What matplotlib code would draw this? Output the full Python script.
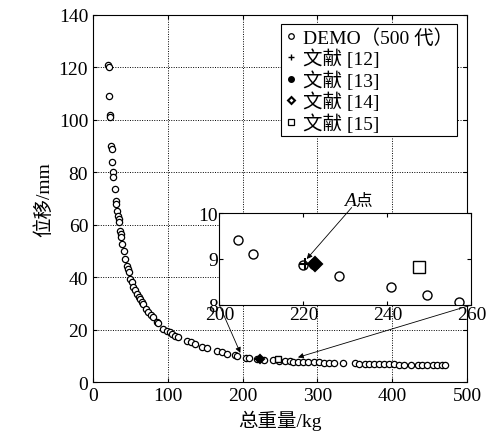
import matplotlib
matplotlib.use("Agg")
import matplotlib.pyplot as plt

plt.rcParams['font.family'] = ['Liberation Serif', 'Noto Sans CJK SC', 'DejaVu Sans']
plt.rcParams['font.size'] = 14

# DEMO (500 generations) data
demo_x = [20.3, 21.0, 21.7, 22.2, 22.6, 24.4, 24.8, 25.3, 26.2, 26.6, 28.8, 30.6, 30.9, 32.0,
          33.3, 34.2, 35.0, 36.4, 37.0, 37.7, 38.6, 40.8, 43.0, 45.3, 46.5, 47.5, 49.7, 52.0,
          54.1, 56.5, 58.7, 61.0, 63.0, 65.5, 67.5, 70.5, 74.1, 77.5, 80.8, 85.3, 86.5, 94.1,
          99.0, 103.0, 106.0, 109.7, 113.0, 125.3, 130.7, 136.0, 145.3, 152.0, 165.3, 172.0,
          178.7, 189.7, 192.0, 204.4, 208.1, 219.8, 228.5, 240.9, 249.3, 257.0, 263.0, 268.0,
          274.0, 280.5, 287.0, 296.0, 302.0, 309.0, 316.0, 322.5, 333.6, 349.7, 356.0, 363.0,
          369.6, 376.0, 383.0, 389.6, 396.0, 403.0, 409.6, 416.0, 425.0, 434.0, 440.5, 447.0,
          454.0, 460.0, 467.0, 470.0]
demo_y = [121.0, 120.3, 109.0, 101.8, 101.0, 90.0, 89.0, 84.0, 80.0, 78.3, 73.6, 69.2, 68.0, 65.4,
          63.5, 62.3, 61.0, 57.8, 56.5, 55.2, 52.7, 50.1, 47.0, 44.4, 43.0, 41.9, 39.4, 38.1,
          36.2, 35.0, 33.6, 32.5, 31.7, 30.5, 29.8, 28.0, 26.7, 25.5, 24.8, 22.9, 22.5, 20.3,
          19.5, 19.0, 18.5, 17.8, 17.2, 15.8, 15.4, 14.5, 13.3, 13.0, 12.0, 11.6,
          10.8, 10.4, 9.9, 9.41, 9.10, 8.88, 8.64, 8.40, 8.22, 8.06, 8.0, 7.9,
          7.9, 7.8, 7.7, 7.6, 7.6, 7.5, 7.5, 7.4, 7.3, 7.2, 7.1, 7.1,
          7.0, 7.0, 6.9, 6.9, 6.8, 6.8, 6.7, 6.7, 6.7, 6.6, 6.6, 6.6,
          6.5, 6.5, 6.5, 6.5]

ref12 = (220.4, 8.90)
ref13 = (222.5, 8.89)
ref14 = (222.8, 8.89)
ref15 = (247.6, 8.83)

labels = ['DEMO（500 代）', '文献 [12]', '文献 [13]', '文献 [14]', '文献 [15]']

fig = plt.figure(figsize=(4.9, 4.39), dpi=100)
ax = fig.add_axes([0.1898, 0.1269, 0.7632, 0.8367])

def draw(a, ms_c, ms_o, mew):
    h0, = a.plot(demo_x, demo_y, 'o', mfc='white', mec='black', ms=ms_c, mew=mew, ls='none')
    h1, = a.plot([ref12[0]], [ref12[1]], '+', color='black', ms=ms_o, mew=1.5, ls='none')
    h2, = a.plot([ref13[0]], [ref13[1]], 'o', mfc='black', mec='black', ms=ms_o * 0.8, ls='none')
    h3, = a.plot([ref14[0]], [ref14[1]], 'D', mfc='black', mec='black', ms=ms_o * 0.8, mew=1.5, ls='none')
    h4, = a.plot([ref15[0]], [ref15[1]], 's', mfc='white', mec='black', ms=ms_o * 0.9, mew=1.0, ls='none')
    return [h0, h1, h2, h3, h4]

handles = draw(ax, 4.5, 5, 0.9)
ax.set_xlim(0, 500)
ax.set_ylim(0, 140)
ax.set_xticks([0, 100, 200, 300, 400, 500])
ax.set_yticks([0, 20, 40, 60, 80, 100, 120, 140])
ax.grid(True, color='black', linestyle=(0, (1, 1.5)), linewidth=0.7)
ax.tick_params(direction='in', top=True, right=True, length=3, labelsize=14)
for s in ax.spines.values():
    s.set_linewidth(0.8)
ax.set_xlabel('总重量/kg', fontsize=14, labelpad=4)
ax.set_ylabel('位移/mm', fontsize=14, labelpad=4)

# legend with small markers
from matplotlib.lines import Line2D
lh = [Line2D([], [], marker='o', mfc='white', mec='black', ms=4, ls='none', mew=0.9),
      Line2D([], [], marker='+', color='black', ms=5, ls='none', mew=1.0),
      Line2D([], [], marker='o', mfc='black', mec='black', ms=4, ls='none'),
      Line2D([], [], marker='D', mfc='white', mec='black', ms=3.5, mew=1.5, ls='none'),
      Line2D([], [], marker='s', mfc='white', mec='black', ms=4, mew=0.9, ls='none')]
leg = ax.legend(lh, labels, loc='upper right', bbox_to_anchor=(0.9725, 0.9755),
                borderaxespad=0, fancybox=False, framealpha=1, edgecolor='black',
                handlelength=0.6, handletextpad=0.3, labelspacing=0.1, borderpad=0.2,
                fontsize=14)
leg.get_frame().set_linewidth(0.8)

# inset
axi = fig.add_axes([0.4476, 0.3030, 0.5146, 0.2095])
draw(axi, 6.5, 9, 1.0)
axi.set_xlim(200, 260)
axi.set_ylim(8, 10)
axi.set_xticks([200, 220, 240, 260])
axi.set_yticks([8, 9, 10])
axi.tick_params(direction='in', top=True, right=True, length=3, labelsize=14, pad=1)
for s in axi.spines.values():
    s.set_linewidth(0.8)

# connecting arrows from inset corners to the main curve
ax.annotate('', xy=(197, 11.2), xycoords='data', xytext=(0, 0), textcoords=axi.transAxes,
            arrowprops=dict(arrowstyle='-|>', color='black', lw=0.6, mutation_scale=8,
                            shrinkA=0, shrinkB=0), annotation_clip=False)
ax.annotate('', xy=(274, 9.5), xycoords='data', xytext=(1, 0), textcoords=axi.transAxes,
            arrowprops=dict(arrowstyle='-|>', color='black', lw=0.6, mutation_scale=8,
                            shrinkA=0, shrinkB=0), annotation_clip=False)

# A point annotation
axi.annotate('', xy=(220.8, 9.0), xytext=(231.5, 10.12),
             arrowprops=dict(arrowstyle='-|>', color='black', lw=0.6, mutation_scale=8,
                             shrinkA=0, shrinkB=0), annotation_clip=False)
axi.text(232.4, 10.28, 'A', fontstyle='italic', family=['Liberation Serif'], fontsize=14,
         ha='right', va='center', clip_on=False)
axi.text(232.4, 10.28, '点', family=['Noto Sans CJK SC'], fontsize=12,
         ha='left', va='center', clip_on=False)

fig.savefig('out.png', dpi=100)
